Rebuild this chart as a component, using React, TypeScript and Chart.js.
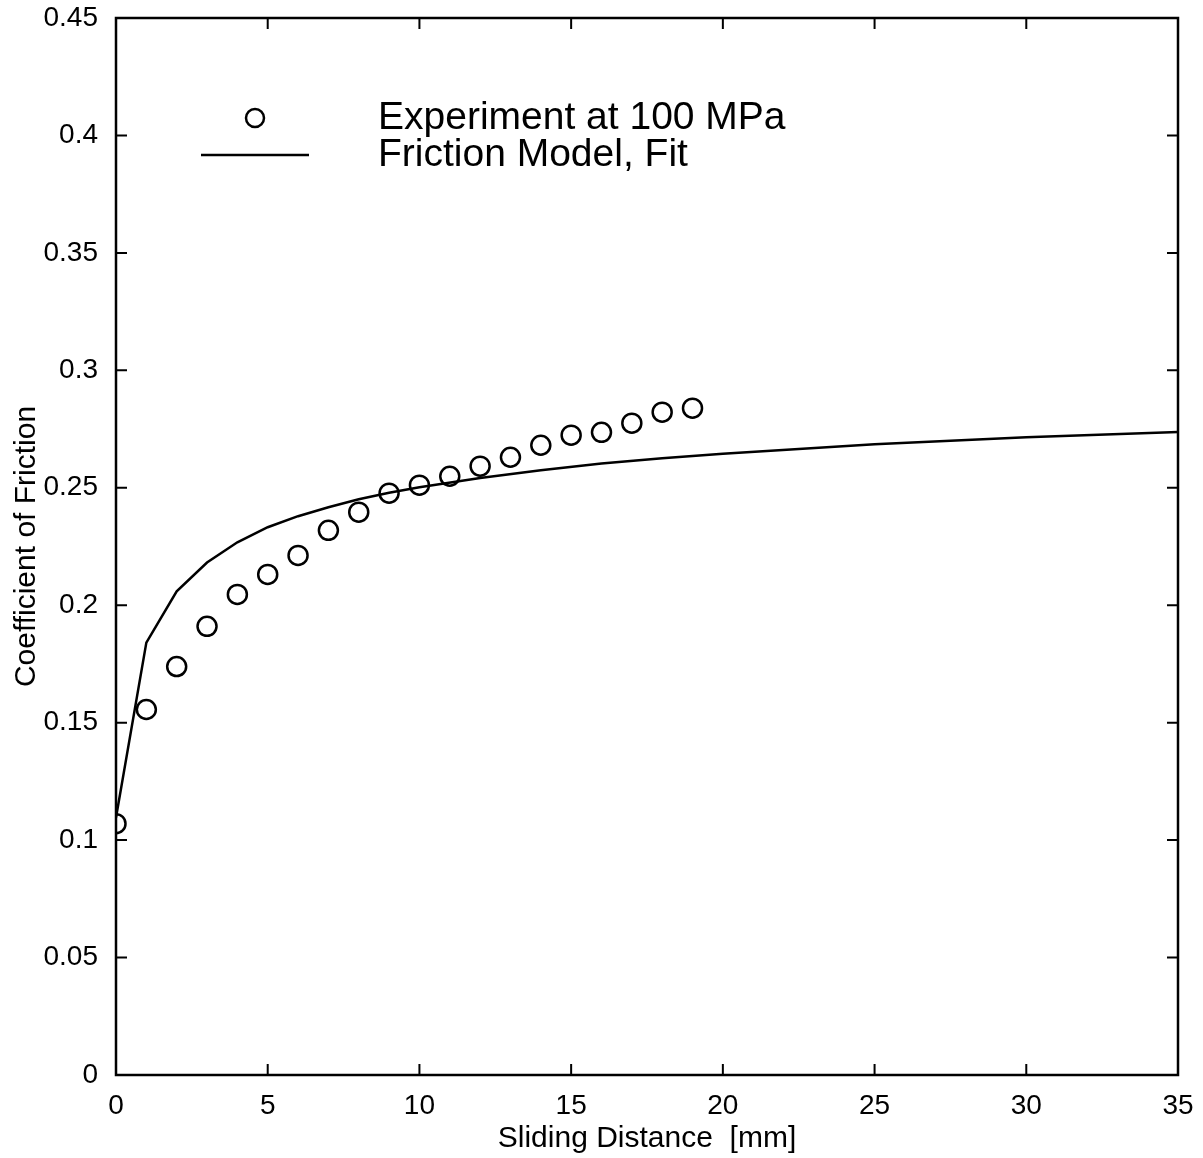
import React, { useEffect, useRef } from "react";
import { Chart, registerables } from "chart.js";

Chart.register(...registerables);

// ---- Data ----
const experimentX = [0, 1, 2, 3, 4, 5, 6, 7, 8, 9, 10, 11, 12, 13, 14, 15, 16, 17, 18, 19];
const experimentY = [
  0.107, 0.1556, 0.1739, 0.191, 0.2046, 0.2131, 0.2212, 0.2319, 0.2396, 0.2477,
  0.2511, 0.2549, 0.2592, 0.263, 0.2681, 0.2724, 0.2736, 0.2775, 0.2822, 0.2839,
];

const modelX = [0, 1, 2, 3, 4, 5, 6, 7, 8, 9, 10, 12, 14, 16, 18, 20, 25, 30, 35];
const modelY = [
  0.1096, 0.1841, 0.2059, 0.2182, 0.2268, 0.2332, 0.2379, 0.2417, 0.2451, 0.2479,
  0.2502, 0.2542, 0.2575, 0.2603, 0.2626, 0.2645, 0.2685, 0.2715, 0.2737,
];

const xTicks = [0, 5, 10, 15, 20, 25, 30, 35];
const xTickLabels = ["0", "5", "10", "15", "20", "25", "30", "35"];
const yTicks = [0, 0.05, 0.1, 0.15, 0.2, 0.25, 0.3, 0.35, 0.4, 0.45];
const yTickLabels = ["0", "0.05", "0.1", "0.15", "0.2", "0.25", "0.3", "0.35", "0.4", "0.45"];

const experimentLabel = "Experiment at 100 MPa";
const modelLabel = "Friction Model, Fit";
const xTitle = "Sliding Distance  [mm]";
const yTitle = "Coefficient of Friction";

const FONT = "'Liberation Sans', Arial, Helvetica, sans-serif";

const framePlugin = {
  id: "frameAndTicks",
  afterDraw(chart: any) {
    const { ctx, chartArea } = chart;
    const { left, right, top, bottom } = chartArea;
    const xs = chart.scales.x;
    const ys = chart.scales.y;
    const tl = 11;
    ctx.save();
    ctx.strokeStyle = "#000";
    ctx.lineWidth = 2.5;
    ctx.strokeRect(left, top, right - left, bottom - top);
    ctx.lineWidth = 2;
    ctx.beginPath();
    xTicks.forEach((v) => {
      const px = xs.getPixelForValue(v);
      ctx.moveTo(px, bottom);
      ctx.lineTo(px, bottom - tl);
      ctx.moveTo(px, top);
      ctx.lineTo(px, top + tl);
    });
    yTicks.forEach((v) => {
      const py = ys.getPixelForValue(v);
      ctx.moveTo(left, py);
      ctx.lineTo(left + tl, py);
      ctx.moveTo(right, py);
      ctx.lineTo(right - tl, py);
    });
    ctx.stroke();

    // Legend
    const ds = chart.data.datasets;
    const lx = left + 85;
    const row1 = top + 100;
    const row2 = top + 137;
    const textX = left + 262;
    ctx.lineWidth = 2.5;
    ctx.beginPath();
    ctx.arc(lx + 54, row1, 9, 0, Math.PI * 2);
    ctx.stroke();
    ctx.beginPath();
    ctx.moveTo(lx, row2);
    ctx.lineTo(lx + 108, row2);
    ctx.stroke();
    ctx.fillStyle = "#000";
    ctx.font = `39px ${FONT}`;
    ctx.textBaseline = "middle";
    ctx.textAlign = "left";
    ctx.fillText(ds[1].label, textX, row1);
    ctx.fillText(ds[0].label, textX, row2);
    ctx.restore();
  },
};

const zeroPad = (s: any) => {
  s.paddingTop = 0;
  s.paddingBottom = 0;
  s.paddingLeft = 0;
  s.paddingRight = 0;
};

export default function App() {
  const canvasRef = useRef<HTMLCanvasElement | null>(null);

  useEffect(() => {
    const canvas = canvasRef.current;
    if (!canvas) return;
    const chart = new Chart(canvas, {
      type: "scatter",
      data: {
        datasets: [
          {
            label: modelLabel,
            data: modelX.map((x, i) => ({ x, y: modelY[i] })),
            showLine: true,
            borderColor: "#000",
            borderWidth: 2.5,
            pointRadius: 0,
            tension: 0,
            fill: false,
          },
          {
            label: experimentLabel,
            data: experimentX.map((x, i) => ({ x, y: experimentY[i] })),
            showLine: false,
            pointStyle: "circle",
            pointRadius: 9.5,
            pointBorderWidth: 2.5,
            borderColor: "#000",
            backgroundColor: "rgba(0,0,0,0)",
          },
        ],
      },
      options: {
        animation: false,
        responsive: false,
        maintainAspectRatio: false,
        devicePixelRatio: 1,
        layout: { padding: { top: 18, right: 25, left: 0, bottom: 0 } },
        plugins: {
          legend: { display: false },
          tooltip: { enabled: false },
        },
        scales: {
          x: {
            type: "linear",
            min: 0,
            max: 35,
            grid: { display: false },
            border: { display: false },
            afterBuildTicks: (s: any) => {
              s.ticks = xTicks.map((v) => ({ value: v }));
            },
            afterFit: (s: any) => {
              s.height = 83;
              zeroPad(s);
            },
            ticks: {
              color: "#000",
              padding: 6,
              maxRotation: 0,
              autoSkip: false,
              font: { family: FONT, size: 28 },
              callback: (_v: any, i: number) => xTickLabels[i],
            },
            title: {
              display: true,
              text: xTitle,
              color: "#000",
              font: { family: FONT, size: 30 },
              padding: { top: 1, bottom: 1 },
            },
          },
          y: {
            type: "linear",
            min: 0,
            max: 0.45,
            grid: { display: false },
            border: { display: false },
            afterBuildTicks: (s: any) => {
              s.ticks = yTicks.map((v) => ({ value: v }));
            },
            afterFit: (s: any) => {
              s.width = 116;
              zeroPad(s);
            },
            ticks: {
              color: "#000",
              padding: 10,
              autoSkip: false,
              font: { family: FONT, size: 28 },
              callback: (_v: any, i: number) => yTickLabels[i],
            },
            title: {
              display: true,
              text: yTitle,
              color: "#000",
              font: { family: FONT, size: 30 },
              padding: { top: 9, bottom: 0 },
            },
          },
        },
      },
      plugins: [framePlugin],
    });
    return () => chart.destroy();
  }, []);

  return (
    <div
      style={{
        position: "fixed",
        left: 0,
        top: 0,
        width: 1203,
        height: 1158,
        background: "#fff",
      }}
    >
      <canvas ref={canvasRef} width={1203} height={1158} />
    </div>
  );
}
